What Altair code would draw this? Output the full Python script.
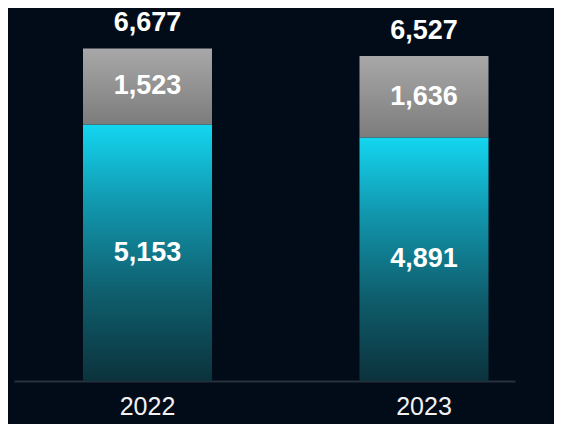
import altair as alt
import pandas as pd

years = ["2022", "2023"]
core = [5153, 4891]
other = [1523, 1636]
total = [6677, 6527]

df = pd.DataFrame({
    "year": years,
    "core": core,
    "other": other,
    "total": total,
})
df["zero"] = 0
df["core_mid"] = df["core"] / 2
df["other_mid"] = df["core"] + df["other"] / 2
df["core_lbl"] = [f"{v:,}" for v in core]
df["other_lbl"] = [f"{v:,}" for v in other]
df["total_lbl"] = [f"{v:,}" for v in total]

FONT = "Liberation Sans"

x = alt.X("year:N", title=None,
          scale=alt.Scale(paddingInner=0.5335, paddingOuter=0.1727, align=0.7225),
          axis=alt.Axis(labelAngle=0, ticks=False, domain=True, domainColor="#27313c",
                        domainWidth=2, labelColor="#f2f2f2", labelFontSize=25,
                        labelFont=FONT, labelPadding=13, grid=False))
yscale = alt.Scale(domain=[0, 7490], nice=False, zero=True)

base = alt.Chart(df)

cyan = alt.Gradient(gradient="linear", x1=0, x2=0, y1=0, y2=1,
                    stops=[alt.GradientStop(color="#14d6f0", offset=0),
                           alt.GradientStop(color="#1199b0", offset=0.3),
                           alt.GradientStop(color="#0f5f6e", offset=0.65),
                           alt.GradientStop(color="#0b323c", offset=1)])
gray = alt.Gradient(gradient="linear", x1=0, x2=0, y1=0, y2=1,
                    stops=[alt.GradientStop(color="#a8a8a8", offset=0),
                           alt.GradientStop(color="#7c7c7c", offset=1)])

bar_core = base.mark_bar(color=cyan).encode(
    x=x,
    y=alt.Y("core:Q", scale=yscale, axis=None),
    y2="zero:Q",
)
bar_other = base.mark_bar(color=gray).encode(
    x=x,
    y=alt.Y("total:Q", scale=yscale, axis=None),
    y2="core:Q",
)
txt_core = base.mark_text(font=FONT, fontSize=27, fontWeight="bold", color="#ffffff",
                          baseline="middle", align="center").encode(
    x=x, y=alt.Y("core_mid:Q", scale=yscale, axis=None), text="core_lbl:N")
txt_other = base.mark_text(font=FONT, fontSize=27, fontWeight="bold", color="#ffffff",
                           baseline="middle", align="center").encode(
    x=x, y=alt.Y("other_mid:Q", scale=yscale, axis=None), text="other_lbl:N")
txt_total = base.mark_text(font=FONT, fontSize=27, fontWeight="bold", color="#ffffff",
                           baseline="middle", align="center", dy=-25).encode(
    x=x, y=alt.Y("total:Q", scale=yscale, axis=None), text="total_lbl:N")

chart = alt.layer(bar_core, bar_other, txt_core, txt_other, txt_total).properties(
    width=501, height=373,
    autosize=alt.AutoSizeParams(type="none"),
    padding={"left": 6, "top": 0, "right": 39, "bottom": 43},
    background="#020c19",
).configure_view(stroke=None)

chart.save("out.html", embed_options={"renderer": "svg", "actions": False})
